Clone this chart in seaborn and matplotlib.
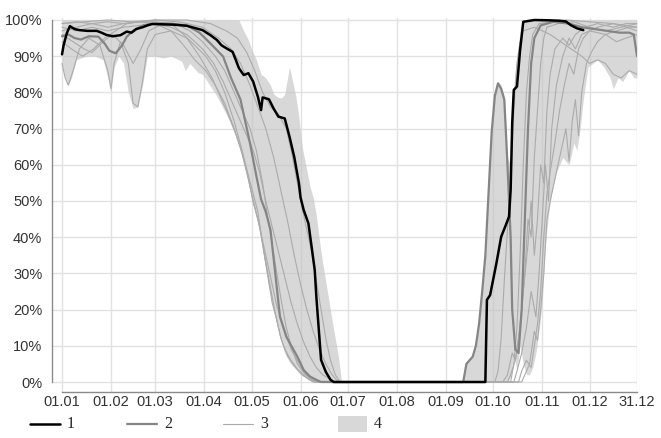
import pandas as pd
import matplotlib
matplotlib.use("Agg")
import matplotlib.pyplot as plt
from matplotlib.lines import Line2D
from matplotlib.patches import Rectangle
import seaborn as sns

# Ice cover share (%) by day of year

month_days = [1, 32, 60, 91, 121, 152, 182, 213, 244, 274, 305, 335, 365]
month_labels = ["01.01", "01.02", "01.03", "01.04", "01.05", "01.06", "01.07",
                "01.08", "01.09", "01.10", "01.11", "01.12", "31.12"]
pct_ticks = [0, 10, 20, 30, 40, 50, 60, 70, 80, 90, 100]
legend_labels = ["1", "2", "3", "4"]

# 4: min-max range over all years
env_days = [1, 3, 5, 7, 10, 13, 17, 22, 27, 30, 32, 34, 37, 40, 43, 46, 49, 52, 55, 60,
            65, 70, 75, 77, 79, 82, 87, 90, 96, 99, 105, 111, 113, 116, 119, 121, 124, 127, 130, 133,
            135, 138, 140, 142, 145, 147, 149, 151, 153, 156, 158, 160, 162, 164, 166, 169, 172, 174, 176, 178,
            255, 257, 259, 261, 263, 265, 267, 269, 271, 273, 275, 277, 279, 281, 283, 285, 287, 289, 291, 293,
            295, 297, 299, 301, 303, 305, 307, 310, 314, 318, 322, 325, 327, 329, 331, 334, 337, 340, 344, 348,
            350, 353, 356, 360, 363, 365]
env_hi = [100, 100, 100, 100, 100, 100, 100, 100, 100, 100, 100, 100, 100, 100, 100, 100, 100, 100, 100, 100,
          100, 100, 100, 100, 100, 100, 100, 100, 100, 100, 100, 100, 100, 97, 94.5, 92, 89, 85, 84, 82,
          79.5, 78.6, 78.5, 79.5, 87, 83, 79, 73, 65, 58.5, 54, 51, 46, 39, 33, 25, 17, 12, 7, 0,
          0, 5, 6, 7, 10, 16, 25, 36, 53, 70, 80, 83, 82, 79, 62, 60, 82, 90, 97, 100,
          100, 100, 100, 100, 100, 100, 100, 100, 100, 100, 100, 100, 100, 100, 100, 100, 100, 100, 100, 100,
          100, 100, 100, 100, 100, 100]
env_lo = [88, 84, 82, 84, 89, 89.5, 90, 90, 89, 84, 80, 87, 90, 88, 80, 75.5, 76, 82, 90, 90,
          89.5, 90, 89, 88.5, 86, 88, 85.5, 85, 81, 79, 74, 68, 66, 62, 56, 50, 46, 40, 31, 24,
          20, 14.5, 11, 8, 5.5, 4.5, 3.5, 2.5, 1.8, 1, 0.5, 0, 0, 0, 0, 0, 0, 0, 0, 0,
          0, 0, 0, 0, 0, 0, 0, 0, 0, 0, 0, 0, 0, 0, 0, 1.5, 8, 3, 10, 5,
          2, 2, 4, 8, 14, 22, 38, 50, 58, 62, 60, 66, 64, 70, 78, 87, 88, 89, 87, 84,
          81, 84, 83, 86, 84, 84]

# 1: highlighted year
black_days = [1, 2, 4, 6, 9, 12, 17, 23, 26, 29, 33, 38, 42, 45, 48, 52, 55, 58, 65, 72,
              80, 85, 90, 95, 99, 102, 105, 109, 111, 113, 116, 119, 122, 125, 127, 128, 132, 135, 138, 142,
              145, 148, 151, 152, 154, 157, 159, 161, 162, 165, 168, 171, 173, 269, 270, 272, 276, 279, 282, 284,
              285, 286, 287, 289, 291, 293, 300, 310, 316, 320, 323, 327, 331]
black_pct = [90.5, 93, 96.3, 98.3, 97.5, 97.2, 97, 97, 96.5, 95.9, 95.5, 95.8, 96.8, 96.5, 97.5, 98, 98.5, 98.9, 98.8, 98.7,
             98.4, 97.8, 97.2, 95.8, 94.5, 93, 92.2, 91.2, 89, 86.7, 84.8, 85.3, 83, 78.8, 75.1, 78.6, 78.1, 75.5, 73.3, 72.8,
             67.8, 62.2, 54.9, 51, 47.5, 43.8, 37.4, 30.9, 23.6, 6.1, 2.8, 0.6, 0, 0, 22.7, 24, 32.8, 40.1, 43.4, 45.7,
             53, 71.5, 80.7, 81.6, 91.7, 99.5, 100, 99.9, 99.8, 99.6, 98.6, 97.7, 97.2]

# 2: medium grey line
mean_days = [1, 5, 9, 13, 18, 24, 28, 31, 35, 39, 42, 46, 50, 53, 60, 70, 80, 88, 95, 103,
             108, 114, 117, 120, 124, 127, 130, 133, 136, 139, 143, 150, 154, 158, 162, 165, 255, 257, 259, 261,
             263, 265, 267, 269, 271, 273, 275, 277, 279, 281, 283, 285, 286, 288, 290, 292, 294, 296, 298, 300,
             304, 312, 322, 330, 338, 346, 354, 360, 363, 365]
mean_pct = [95.5, 96, 95, 94.6, 95.5, 95.4, 93.5, 91.5, 90.8, 93, 95.4, 97, 98, 98.6, 99, 99, 98.5, 96.5, 93.5, 89.9,
            84, 78, 72, 66, 57, 50.5, 47, 42, 30, 18, 12.5, 7, 3.3, 1.5, 0.6, 0, 0, 5, 6, 7,
            10, 16, 25, 35, 52, 69, 79, 82.5, 81, 78, 60, 40, 20, 9, 8, 20, 45, 70, 88, 95,
            98.5, 99.5, 99, 98, 97.5, 97, 96.5, 96.5, 96, 90]

# 3: individual years, thin lines
t1_days = [1, 10, 20, 30, 40, 50, 60, 70, 78, 85, 92, 98, 104, 110, 115, 119, 122, 125, 128, 131,
           134, 137, 140, 144, 148, 153, 158, 161, 280, 283, 286, 288, 290, 292, 294, 296, 298, 300, 302, 304,
           306, 308, 315, 325, 335, 345, 355, 365]
t1_pct = [97, 98, 99, 98, 99, 99.5, 99.5, 99, 96, 93, 90, 86, 80, 72, 64, 57, 52, 47, 38, 30,
          22, 17, 11.5, 7, 4.5, 2, 0.5, 0, 0, 2, 8, 6, 12, 20, 30, 45, 40, 62, 75, 88,
          95, 98, 99, 99.5, 98, 97, 98, 99]
t2_days = [1, 10, 20, 30, 40, 50, 60, 80, 95, 105, 112, 118, 123, 128, 133, 138, 143, 147, 150, 153,
           156, 159, 162, 165, 168, 171, 174, 177, 285, 287, 289, 291, 293, 295, 297, 299, 303, 320, 335, 350, 365]
t2_pct = [99, 99.5, 99, 99.5, 99, 99.5, 100, 100, 99, 97, 95, 91, 86, 80, 76, 74, 70, 62, 55, 48,
          42, 36, 28, 20, 12, 6, 2, 0, 0, 5, 15, 35, 60, 80, 90, 96, 99, 100, 99.5, 99, 98]
t3_days = [1, 3, 5, 8, 12, 18, 25, 30, 32, 34, 38, 43, 46, 49, 52, 55, 60, 70, 80, 88,
           96, 102, 108, 114, 118, 122, 126, 130, 133, 136, 139, 142, 146, 150, 155, 160, 283, 285, 288, 291,
           293, 296, 298, 300, 302, 304, 306, 308, 310, 313, 318, 322, 326, 332, 340, 350, 358, 365]
t3_pct = [88, 84, 82, 86, 92, 95, 93, 86, 81, 88, 94, 88, 77, 76, 83, 92, 96, 97, 95, 90,
          84, 78, 72, 65, 58, 50, 43, 33, 26, 19, 13, 9, 6, 3.5, 1.5, 0, 0, 2, 6, 15,
          25, 38, 50, 35, 45, 60, 55, 75, 85, 92, 95, 93, 96, 98, 99, 98, 99, 99]
t4_days = [1, 8, 15, 20, 27, 33, 40, 46, 51, 56, 65, 75, 82, 90, 98, 104, 110, 115, 120, 124,
           128, 131, 134, 137, 140, 143, 146, 150, 155, 160, 163, 287, 289, 292, 295, 298, 301, 303, 305, 307,
           309, 311, 314, 318, 322, 326, 330, 335, 345, 352, 358, 365]
t4_pct = [96, 94, 92, 91, 94, 96, 93, 88, 92, 97, 99, 98.5, 97, 94, 90, 86, 80, 75, 70, 64,
          55, 46, 38, 30, 22, 15, 10, 5, 2, 0.5, 0, 0, 3, 8, 15, 25, 18, 30, 45, 60,
          50, 70, 82, 90, 95, 92, 96, 97, 96, 94, 95, 96]
t5_days = [1, 10, 20, 30, 40, 50, 60, 70, 80, 90, 97, 103, 109, 114, 118, 122, 126, 130, 134, 138,
           142, 146, 150, 154, 158, 162, 166, 170, 174, 290, 292, 295, 298, 300, 302, 304, 306, 308, 310, 313,
           316, 319, 322, 325, 328, 331, 335, 340, 350, 358, 365]
t5_pct = [98, 97, 98, 97, 98, 98.5, 99, 98, 96, 92, 88, 83, 77, 72, 68, 64, 58, 50, 43, 36,
          29, 22, 16, 11, 7, 4, 2, 1, 0, 0, 3, 6, 4, 10, 16, 25, 40, 52, 58, 66,
          75, 82, 88, 85, 92, 95, 97, 98, 99, 98, 97]
t6_days = [1, 7, 14, 21, 28, 35, 42, 50, 60, 70, 78, 85, 92, 98, 104, 110, 115, 119, 122, 125,
           128, 131, 134, 137, 140, 143, 146, 150, 154, 158, 162, 275, 277, 279, 281, 283, 285, 287, 289, 291,
           293, 300, 310, 320, 330, 335, 340, 345, 350, 355, 360, 365]
t6_pct = [94, 92, 90, 92, 95, 97, 99, 99.5, 99, 97, 93, 89, 86, 82, 77, 70, 63, 56, 50, 45,
          39, 33, 27, 21, 17, 13, 9, 6, 3, 1, 0, 0, 3, 12, 28, 42, 55, 75, 88, 94,
          97, 98, 96, 93, 90, 88, 89, 88, 85, 84, 86, 85]
t7_days = [1, 15, 30, 45, 60, 75, 90, 100, 108, 114, 120, 125, 130, 135, 140, 144, 148, 152, 156, 160,
           164, 168, 172, 176, 292, 294, 297, 300, 302, 304, 306, 308, 311, 314, 317, 320, 322, 324, 326, 328,
           330, 333, 336, 340, 345, 352, 360, 365]
t7_pct = [99, 99.5, 100, 99.5, 100, 99.5, 98, 95, 92, 88, 82, 76, 70, 62, 52, 44, 35, 27, 20, 14,
          9, 5, 2, 0, 0, 2, 5, 14, 11.5, 20, 30, 45, 52, 58, 64, 70, 61, 72, 78, 68,
          80, 88, 91, 94, 96, 97, 98, 98]

W, H = 661, 438


def thin_frame():
    parts = []
    for name, d, p in [("t1", t1_days, t1_pct), ("t2", t2_days, t2_pct), ("t3", t3_days, t3_pct),
                       ("t4", t4_days, t4_pct), ("t5", t5_days, t5_pct), ("t6", t6_days, t6_pct),
                       ("t7", t7_days, t7_pct)]:
        parts.append(pd.DataFrame({"day": d, "pct": p, "series": name}))
    return pd.concat(parts, ignore_index=True)


sns.set_style("white")
plt.rcParams["font.family"] = ["Liberation Sans", "DejaVu Sans"]

fig = plt.figure(figsize=(W / 100, H / 100), dpi=100)
ax = fig.add_axes([52 / W, 1 - 392 / H, (637 - 52) / W, (392 - 18) / H])

ax.fill_between(env_days, env_lo, env_hi, color="#c4c4c4", alpha=0.65, lw=0, zorder=1)

sns.lineplot(data=thin_frame(), x="day", y="pct", units="series", estimator=None,
             color="#ababab", lw=0.8, legend=False, ax=ax, zorder=2)
sns.lineplot(x=mean_days, y=mean_pct, color="#858585", lw=1.6, ax=ax, zorder=3)
sns.lineplot(x=black_days, y=black_pct, color="black", lw=1.8, ax=ax, zorder=4)

ax.set_xlim(-5.33, 365)
ax.set_ylim(-2.76, 100.55)
ax.set_xticks(month_days)
ax.set_xticklabels(month_labels)
ax.set_yticks(pct_ticks)
ax.set_yticklabels([f"{v}%" for v in pct_ticks])
ax.set_xlabel("")
ax.set_ylabel("")

ax.grid(True, color="#e2e2e2", lw=1)
ax.set_axisbelow(True)
for side in ["top", "right"]:
    ax.spines[side].set_visible(False)
ax.spines["left"].set_bounds(0, 100)
ax.spines["bottom"].set_bounds(1, 365)
for side in ["left", "bottom"]:
    ax.spines[side].set_color("#8a8a8a")
    ax.spines[side].set_linewidth(1)
ax.tick_params(direction="in", length=7, width=1, color="#8a8a8a",
               labelsize=10.5, labelcolor="#333333")
ax.tick_params(axis="y", pad=7)
ax.tick_params(axis="x", pad=2)

# legend row below the axes
ly = 1 - 424 / H
handles = [("line", 30, 60, "black", 1.8), ("line", 127, 157, "#858585", 1.6),
           ("line", 223, 253, "#ababab", 0.8)]
for (kind, x0, x1, col, lw), lab in zip(handles, legend_labels[:3]):
    fig.add_artist(Line2D([x0 / W, x1 / W], [ly, ly], transform=fig.transFigure, color=col, lw=lw))
    fig.text((x1 + 7) / W, ly, lab, family="Liberation Serif", fontsize=11.5, va="center", color="#222222")
fig.add_artist(Rectangle((338 / W, 1 - 432 / H), 29 / W, 16 / H, transform=fig.transFigure,
                         facecolor="#c4c4c4", alpha=0.65, lw=0))
fig.text(374 / W, ly, legend_labels[3], family="Liberation Serif", fontsize=11.5, va="center", color="#222222")

fig.savefig("out.png", dpi=100)
